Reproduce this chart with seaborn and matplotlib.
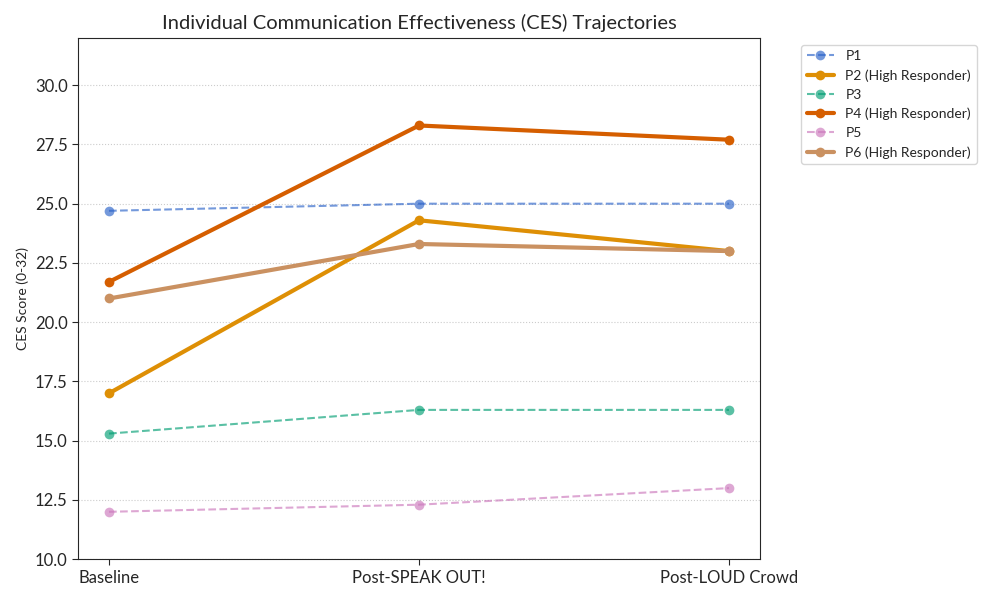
import matplotlib
matplotlib.use("Agg")
import matplotlib.pyplot as plt
import seaborn as sns
import pandas as pd

# data
phases = ['Baseline', 'Post-SPEAK OUT!', 'Post-LOUD Crowd']
participants = ['P1', 'P2', 'P3', 'P4', 'P5', 'P6']
high_responders = ['P2', 'P4', 'P6']
p1 = [24.7, 25.0, 25.0]
p2 = [17.0, 24.3, 23.0]
p3 = [15.3, 16.3, 16.3]
p4 = [21.7, 28.3, 27.7]
p5 = [12.0, 12.3, 13.0]
p6 = [21.0, 23.3, 23.0]
scores = [p1, p2, p3, p4, p5, p6]

sns.set_style("white")
plt.rcParams['font.family'] = ['Lato', 'DejaVu Sans']

rows = []
for pid, vals in zip(participants, scores):
    for ph, v in zip(phases, vals):
        rows.append({'Participant': pid, 'Phase': ph, 'CES': v})
df = pd.DataFrame(rows)

colors = sns.color_palette("colorblind", 6)
colors[0] = '#2a62c9'

fig, ax = plt.subplots(figsize=(10, 6), dpi=100)
fig.subplots_adjust(left=0.078, right=0.76, top=0.937, bottom=0.068)

for i, pid in enumerate(participants):
    sub = df[df['Participant'] == pid]
    if pid in high_responders:
        sns.lineplot(data=sub, x='Phase', y='CES', ax=ax, color=colors[i],
                     marker='o', markersize=7, markeredgewidth=0, linewidth=3,
                     label=f'{pid} (High Responder)', sort=False)
    else:
        sns.lineplot(data=sub, x='Phase', y='CES', ax=ax, color=colors[i],
                     marker='o', markersize=7, markeredgewidth=0, linewidth=1.5,
                     linestyle='--', alpha=0.65, label=pid, sort=False)

ax.set_ylim(10, 32)
ax.set_yticks([10, 12.5, 15, 17.5, 20, 22.5, 25, 27.5, 30])
ax.yaxis.grid(True, linestyle=':', color='#cccccc', linewidth=0.8)
ax.set_axisbelow(True)
ax.tick_params(axis='both', labelsize=12, length=4, left=True, bottom=True)
ax.set_title('Individual Communication Effectiveness (CES) Trajectories', fontsize=14.5)
ax.set_xlabel('')
ax.set_ylabel('CES Score (0-32)', fontsize=10)
ax.legend(loc='upper left', bbox_to_anchor=(1.05, 1), fontsize=10)

plt.savefig('out.png', dpi=100)
